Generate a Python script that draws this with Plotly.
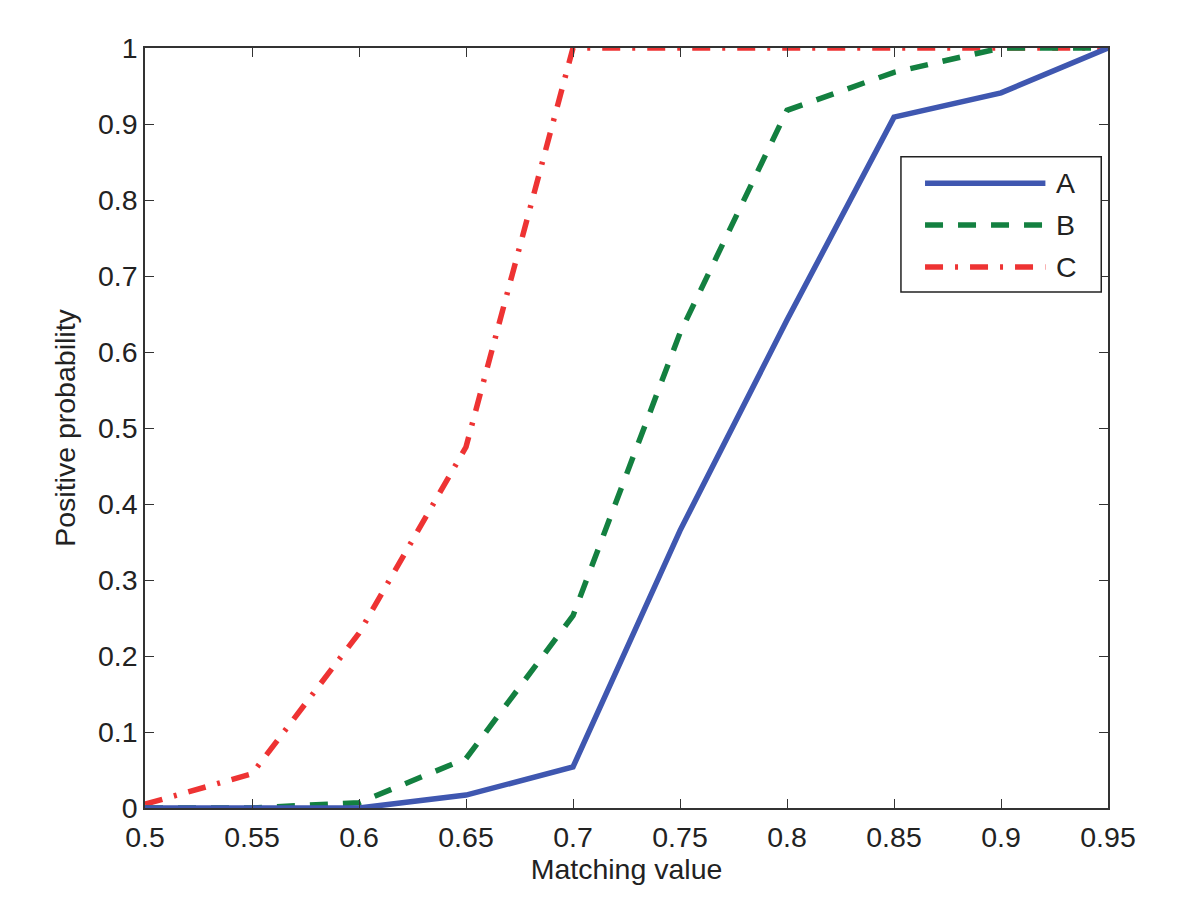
import plotly.graph_objects as go

# valeurs
matching = [0.5, 0.55, 0.6, 0.65, 0.7, 0.75, 0.8, 0.85, 0.9, 0.95]
prob_a = [0.0, 0.0, 0.0, 0.017, 0.054, 0.365, 0.642, 0.909, 0.941, 1.0]
prob_b = [0.0, 0.0, 0.007, 0.065, 0.253, 0.625, 0.918, 0.968, 1.0, 1.0]
prob_c = [0.005, 0.045, 0.23, 0.475, 1.0, 1.0, 1.0, 1.0, 1.0, 1.0]

series_names = ["A", "B", "C"]
x_ticks = [0.5, 0.55, 0.6, 0.65, 0.7, 0.75, 0.8, 0.85, 0.9, 0.95]
x_labels = ["0.5", "0.55", "0.6", "0.65", "0.7", "0.75", "0.8", "0.85", "0.9", "0.95"]
y_ticks = [0, 0.1, 0.2, 0.3, 0.4, 0.5, 0.6, 0.7, 0.8, 0.9, 1]
y_labels = ["0", "0.1", "0.2", "0.3", "0.4", "0.5", "0.6", "0.7", "0.8", "0.9", "1"]

colors = ["#3f57b0", "#138040", "#ee3333"]
dashes = ["solid", "18px,15px", "18px,12px,3px,12px"]
FONT = dict(size=28.5, color="#222222")

fig = go.Figure()
# C, B puis A (A dessus)
for ys, name, color, dash in [(prob_c, "C", colors[2], dashes[2]),
                              (prob_b, "B", colors[1], dashes[1]),
                              (prob_a, "A", colors[0], dashes[0])]:
    fig.add_trace(go.Scatter(x=matching, y=ys, mode="lines", name=name, showlegend=False,
                             line=dict(color=color, width=5.5, dash=dash)))

axis_common = dict(showgrid=False, zeroline=False, showline=True, linecolor="#333333",
                   linewidth=1.5, mirror="ticks", ticks="inside", ticklen=9,
                   tickcolor="#333333", tickwidth=1.2, tickfont=FONT)
fig.update_xaxes(range=[0.5, 0.95], tickvals=x_ticks, ticktext=x_labels,
                 ticklabelstandoff=3,
                 title=dict(text="Matching value", font=FONT, standoff=4),
                 **axis_common)
fig.update_yaxes(range=[0, 1], tickvals=y_ticks, ticktext=y_labels,
                 title=dict(text="Positive probability", font=FONT, standoff=14),
                 **axis_common)

# légende style MATLAB (cadre + traits longs), en coordonnées du cadre du graphe
shapes = [dict(type="rect", xref="paper", yref="paper", x0=0.785, x1=0.993, y0=0.679, y1=0.857,
               line=dict(color="#222222", width=1.5), fillcolor="white", layer="above")]
annotations = []
for i, (name, color, dash) in enumerate(zip(series_names, colors, dashes)):
    yy = 0.822 - i * 0.055
    shapes.append(dict(type="line", xref="paper", yref="paper", x0=0.810, x1=0.935, y0=yy, y1=yy,
                       line=dict(color=color, width=5.5, dash=dash), layer="above"))
    annotations.append(dict(text=name, xref="paper", yref="paper", x=0.944, y=yy,
                            xanchor="left", yanchor="middle", showarrow=False, font=FONT))

fig.update_layout(
    width=1200, height=898,
    margin=dict(l=137, r=100, t=40, b=98),
    plot_bgcolor="white", paper_bgcolor="white",
    font=dict(family="Liberation Sans, Arial, sans-serif"),
    showlegend=False,
    shapes=shapes, annotations=annotations,
)

fig.write_html("out.html")
